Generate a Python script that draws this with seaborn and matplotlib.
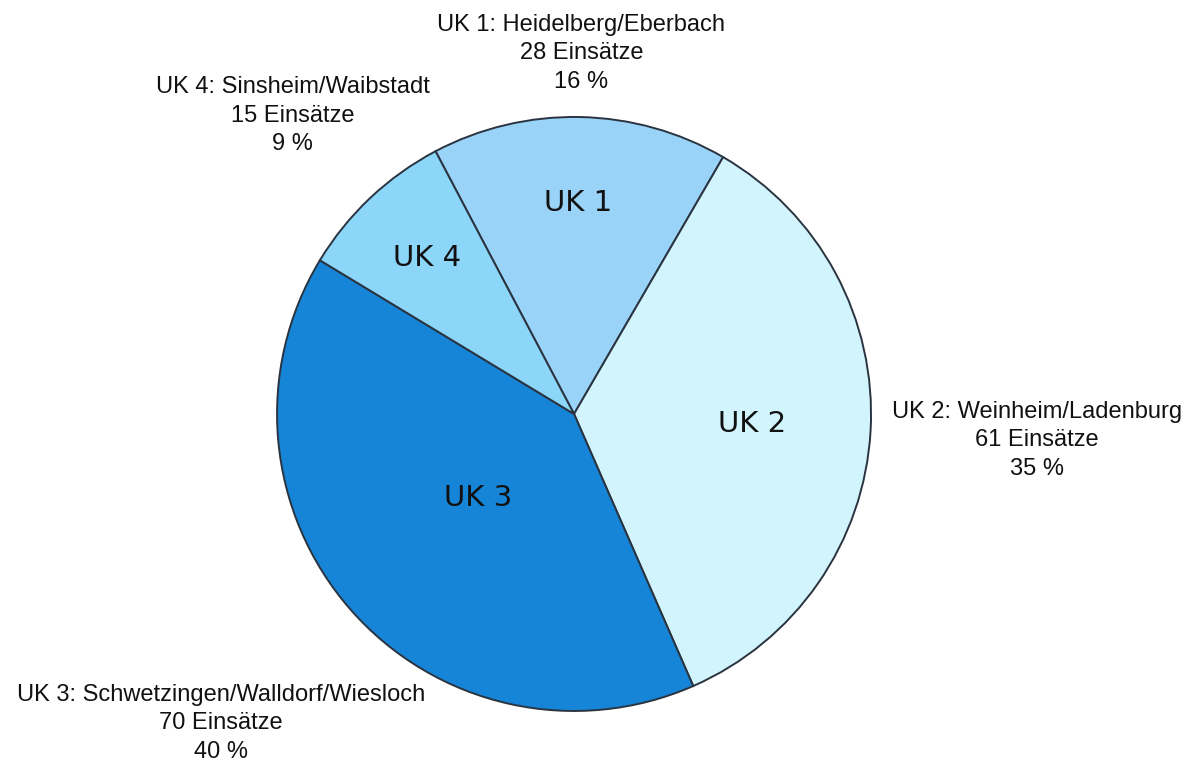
import numpy as np
import matplotlib
matplotlib.use("Agg")
import matplotlib.pyplot as plt
import seaborn as sns

# data
units = ["UK 1", "UK 2", "UK 3", "UK 4"]
places = ["Heidelberg/Eberbach", "Weinheim/Ladenburg",
          "Schwetzingen/Walldorf/Wiesloch", "Sinsheim/Waibstadt"]
einsaetze = [28, 61, 70, 15]
percent = [16, 35, 40, 9]
colors = ["#99d3f8", "#d2f4fd", "#1685d8", "#8cd6fa"]

# label distances from the centre (in radii)
inner_r = [0.71, 0.60, 0.43, 0.72]
outer_r = [1.215, 1.56, 1.58, 1.38]

sns.set_theme(style="white")
plt.rcParams['font.family'] = ['Liberation Sans', 'DejaVu Sans']

fig = plt.figure(figsize=(11.88, 7.64), dpi=100)
ax = fig.add_axes([0.2332, 0.0694, 0.5, 0.7775])

wedges, _ = ax.pie(einsaetze, colors=colors, startangle=117.8,
                   counterclock=False, radius=1,
                   wedgeprops=dict(edgecolor="#2a3440", linewidth=1.4))
ax.set_xlim(-1, 1)
ax.set_ylim(-1, 1)
ax.set_aspect("equal")
ax.axis("off")

for i, w in enumerate(wedges):
    mid = np.deg2rad((w.theta1 + w.theta2) / 2)
    ax.text(inner_r[i] * np.cos(mid), inner_r[i] * np.sin(mid), units[i],
            ha="center", va="center", fontsize=21, family="DejaVu Sans",
            color="#111111")
    label = f"{units[i]}: {places[i]}\n{einsaetze[i]} Einsätze\n{percent[i]} %"
    ax.text(outer_r[i] * np.cos(mid), outer_r[i] * np.sin(mid), label,
            ha="center", va="center", fontsize=17, linespacing=1.38,
            color="#111111", clip_on=False)

fig.savefig("out.png", dpi=100, facecolor="white")
